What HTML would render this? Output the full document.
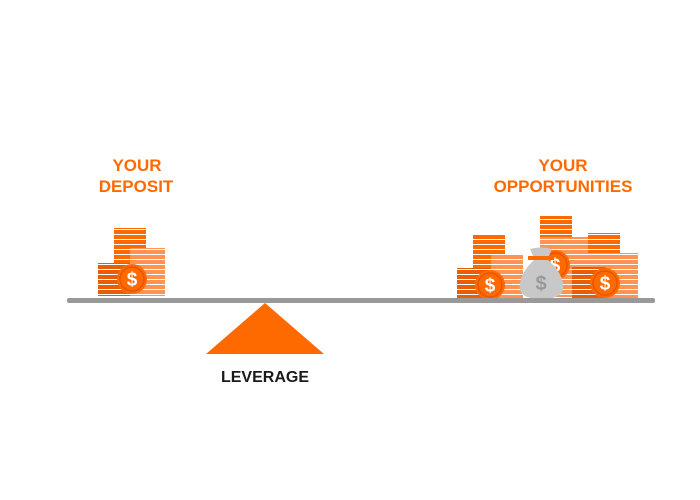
<!DOCTYPE html>
<html><head><meta charset="utf-8"><style>
html,body{margin:0;padding:0;background:#fff;width:700px;height:500px;overflow:hidden}
</style></head><body>
<svg width="700" height="500" viewBox="0 0 700 500" xmlns="http://www.w3.org/2000/svg">
<defs>
<pattern id="pd" width="10" height="5" patternUnits="userSpaceOnUse"><rect width="10" height="5" fill="#fff"/><rect width="10" height="4" fill="#e85d05"/></pattern>
<pattern id="pm" width="10" height="5" patternUnits="userSpaceOnUse"><rect width="10" height="5" fill="#fff"/><rect width="10" height="4" fill="#ff6a00"/></pattern>
<pattern id="pl" width="10" height="5" patternUnits="userSpaceOnUse"><rect width="10" height="5" fill="#fff"/><rect width="10" height="4" fill="#ff9352"/></pattern>
<g id="coin"><circle r="15" fill="#ff6a00"/><circle r="12" fill="none" stroke="#e85500" stroke-width="1.5"/><text y="6.5" text-anchor="middle" font-family="Liberation Sans,sans-serif" font-weight="bold" font-size="19" fill="#fff">$</text></g>
</defs>
<g font-family="Liberation Sans,sans-serif" font-weight="bold" fill="#ff6a00" font-size="17" text-anchor="middle">
<text x="137" y="171">YOUR</text><text x="136" y="192">DEPOSIT</text>
<text x="563" y="171">YOUR</text><text x="563" y="192">OPPORTUNITIES</text>
</g>
<!-- left group -->
<rect x="114" y="228" width="32" height="22" fill="url(#pm)"/>
<rect x="114" y="248" width="51" height="48" fill="url(#pl)"/>
<rect x="114" y="248" width="16" height="48" fill="url(#pm)"/>
<rect x="98" y="263" width="32" height="33" fill="url(#pd)"/>
<use href="#coin" x="132" y="279"/>
<!-- right group -->
<rect x="540" y="216" width="32" height="22" fill="url(#pm)"/>
<rect x="540" y="237" width="48" height="60" fill="url(#pl)"/>
<use href="#coin" x="555" y="265"/>
<rect x="473" y="234" width="32" height="21" fill="url(#pm)"/>
<rect x="473" y="254" width="50" height="44" fill="url(#pl)"/>
<rect x="473" y="254" width="18" height="44" fill="url(#pm)"/>
<rect x="457" y="268" width="33" height="30" fill="url(#pd)"/>
<use href="#coin" x="490" y="285"/>
<rect x="588" y="233" width="32" height="21" fill="url(#pm)"/>
<rect x="588" y="253" width="50" height="45" fill="url(#pl)"/>
<rect x="572" y="267" width="34" height="31" fill="url(#pd)"/>
<use href="#coin" x="605" y="283"/>
<!-- bag -->
<path d="M530 249 Q540 246 552 249 L548 258 L534 258 Z" fill="#c8c8c8"/>
<path d="M534 260 Q518 275 520 290 Q523 299 541 299 Q560 299 563 290 Q565 275 548 260 Z" fill="#c8c8c8"/>
<rect x="528" y="256" width="26" height="4" fill="#ff6a00"/>
<text x="541" y="290" text-anchor="middle" font-family="Liberation Sans,sans-serif" font-weight="bold" font-size="20" fill="#999">$</text>
<!-- beam -->
<rect x="67" y="298" width="588" height="5" rx="2" fill="#999"/>
<polygon points="265,303 206,354 324,354" fill="#ff6a00"/>
<text x="265" y="382" text-anchor="middle" font-family="Liberation Sans,sans-serif" font-weight="bold" font-size="16" fill="#1a1a1a">LEVERAGE</text>
</svg>
</body></html>
